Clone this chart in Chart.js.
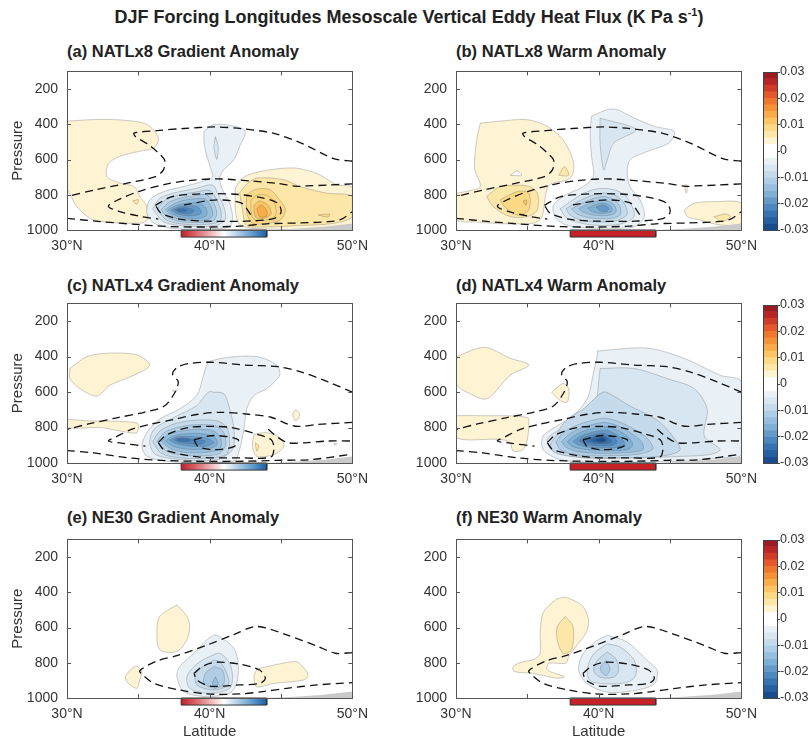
<!DOCTYPE html>
<html>
<head>
<meta charset="utf-8">
<script src="https://cdn.jsdelivr.net/npm/chart.js@4.4.1/dist/chart.umd.min.js"></script>
<style>
  body { margin: 0; background: #fff; }
  #page { position: relative; width: 811px; height: 743px; overflow: hidden;
          font-family: "Liberation Sans", Arial, Helvetica, sans-serif; color: #222; }
  canvas { position: absolute; }
  .ttl { position: absolute; font-weight: bold; font-size: 16.5px; white-space: nowrap; }
</style>
</head>
<body>
<div id="page">
  <div class="ttl" style="left:0;width:818px;text-align:center;top:7px;font-size:18px">DJF Forcing Longitudes Mesoscale Vertical Eddy Heat Flux (K Pa s<span style="font-size:11px;position:relative;top:-7px">-1</span>)</div>
  <div class="ttl" style="left:67px;top:42px">(a) NATLx8 Gradient Anomaly</div>
  <div class="ttl" style="left:456px;top:42px">(b) NATLx8 Warm Anomaly</div>
  <div class="ttl" style="left:67px;top:276px">(c) NATLx4 Gradient Anomaly</div>
  <div class="ttl" style="left:456px;top:276px">(d) NATLx4 Warm Anomaly</div>
  <div class="ttl" style="left:67px;top:508px">(e) NE30 Gradient Anomaly</div>
  <div class="ttl" style="left:456px;top:508px">(f) NE30 Warm Anomaly</div>

  <canvas id="pa" width="376" height="208" style="left:0;top:54px"></canvas>
  <canvas id="pb" width="375" height="208" style="left:390px;top:54px"></canvas>
  <canvas id="pc" width="376" height="209" style="left:0;top:286px"></canvas>
  <canvas id="pd" width="375" height="209" style="left:390px;top:286px"></canvas>
  <canvas id="pe" width="376" height="221" style="left:0;top:522px"></canvas>
  <canvas id="pf" width="375" height="221" style="left:390px;top:522px"></canvas>

  <canvas id="cb1" width="56" height="178" style="left:755px;top:62px"></canvas>
  <canvas id="cb2" width="56" height="178" style="left:755px;top:295px"></canvas>
  <canvas id="cb3" width="56" height="178" style="left:755px;top:530px"></canvas>
</div>

<script>
// Ejes
const latTicks = [30, 35, 40, 45, 50]
const pressureTicks = [200, 400, 600, 800, 1000]
const colorbarTicks = [0.03, 0.02, 0.01, 0, -0.01, -0.02, -0.03]
const levelStep = 0.0025

// Colores de cada banda (indice 0 = banda junto a cero)
const posColors = ['#ffffff', '#fef3d2', '#fde7a8', '#fcd987', '#fbc565', '#f8ad4a',
                   '#f49238', '#ee772f', '#e4582b', '#d03a28', '#b72526', '#9c1a22']
const negColors = ['#ffffff', '#e9f1f7', '#d8e6f1', '#c5dbec', '#afcde5', '#97bfdd',
                   '#7eafd4', '#6599c8', '#4d87be', '#3873b1', '#2660a2', '#184c8e']

// Barra de forzamiento (latitudes) y topografia (lat, p)
const forcingLats = [38, 44]
const terrain = [[44, 1000], [46, 993], [48, 982], [50, 963], [50, 1000]]

// Contornos discontinuos (estado medio)
const dashX8 = [
  [[50,610],[48.7,595],[46.5,510],[44.5,452],[42.2,425],[40.3,415],[38.2,424],[36.3,436],[34.7,450],[34.8,470],[35.7,515],[36.5,570],[36.85,605],[36.75,660],[36.2,697],[34.3,733],[32,772],[30,810]],
  [[50,738],[48.3,745],[46.8,750],[46.1,752],[44.8,736],[42.9,722],[40.6,710],[38.7,718],[36.8,742],[35.0,782],[33.6,828],[32.9,865],[33.6,893],[35.1,922],[36.4,938]],
  [[36.2,860],[37.3,812],[39.5,795],[41.8,797],[43.7,818],[44.8,850],[45.0,900],[44.5,935],[42.5,950],[40,950],[38,940],[36.6,905],[36.2,860]],
  [[38.2,858],[40.3,830],[42.2,846],[42.9,915]],
  [[30,934],[32.3,952],[35.1,970],[37.5,981],[39.8,983],[42.1,978],[44,965],[46.2,960],[48.3,953],[49.2,940],[50,896]]
]
const dashX4 = [
  [[50,600],[48.3,543],[46.4,486],[44.8,457],[42.5,448],[40.1,432],[38.5,440],[37.7,462],[37.4,500],[37.8,542],[37.5,611],[36.8,680],[35.4,714],[33.5,745],[31.5,780],[30,810]],
  [[50,771],[47.6,782],[46.2,794],[45.5,782],[44.3,742],[42.7,725],[40.8,714],[39.2,725],[37.5,754],[35.8,782],[34.5,811],[33.5,850],[32.9,876],[33.8,888],[35.5,905]],
  [[36.4,885],[36.8,925],[39.2,966],[42.2,971],[44.3,966],[44.5,908],[44.3,868],[43.4,840],[41.5,800],[40.3,794],[38.5,800],[37,840],[36.4,885]],
  [[38.9,868],[40.3,845],[42,868],[41.7,908],[40.3,925],[39.2,908],[38.9,868]],
  [[44.1,810],[44.8,857],[45.5,886],[46.7,886],[48.3,876],[50,876]],
  [[30,930],[31.9,943],[34.3,971],[36.6,985],[38.9,990],[42.5,990],[44.8,985],[47.1,981],[50,950]]
]
const dashNE30 = [
  [[50,742],[48.8,746],[47.6,708],[45.4,642],[43.3,594],[41.7,640],[39.8,700],[37.7,760],[36.3,790],[35.1,845],[35.3,869],[36.1,917],[37.9,955],[39.8,977],[42.1,977],[43.6,965],[45.4,945],[47.5,926],[50,913]],
  [[38.9,860],[39.5,820],[40.5,797],[42.1,808],[43.5,841],[43.9,888],[43.5,917],[42.1,926],[40,932],[39.1,898],[38.9,860]]
]

// Contornos rellenos: [nivel, puntos (lat, p)]
const gradX8 = [
  [1, [[30,382],[32.1,373],[34.0,377],[35.6,401],[36.4,477],[36.1,535],[35.1,553],[33.7,582],[32.9,625],[32.8,696],[33.7,734],[34.7,753],[35.1,810],[35.6,867],[35.6,943],[35.1,962],[31.9,943],[30.7,870],[30.3,810],[30,760]]],
  [2, [[34.6,835],[35.0,828],[34.9,854]]],
  [1, [[41.8,760],[42.3,705],[43.1,677],[44.5,655],[45.9,648],[47.0,665],[47.7,686],[48.9,743],[50,762],[50,995],[43.1,992],[42.1,968],[41.8,886]]],
  [2, [[42.1,790],[42.6,740],[43.3,705],[45.2,715],[46.3,753],[48.2,791],[50,810],[50,924],[48.7,962],[46.3,975],[44,982],[42.6,975],[42.3,886]]],
  [3, [[47.6,915],[48.4,910],[48.3,927]]],
  [3, [[42.6,800],[43.2,770],[44.2,770],[44.8,820],[45.3,880],[45.0,940],[44.0,962],[43.0,962],[42.6,900]]],
  [3, [[42.9,830],[43.4,800],[44.2,810],[44.6,860],[44.6,920],[43.8,945],[43.1,940],[42.9,890]]],
  [4, [[43.1,860],[43.5,835],[44.1,860],[44.3,910],[43.7,935],[43.2,925]]],
  [5, [[43.3,880],[43.6,858],[44.0,890],[44.0,920],[43.5,925]]],
  [-1, [[39.6,440],[40.3,401],[41.7,411],[42.5,440],[42.1,525],[41.7,601],[41.0,658],[40.7,705],[40.9,772],[41.4,848],[41.6,924],[41.4,981],[39.8,992],[37.5,992],[36.1,962],[35.6,905],[35.8,829],[36.8,782],[38.2,753],[39.6,722],[40.2,700],[40.1,658],[39.8,582],[39.6,506]]],
  [-2, [[40.4,470],[40.6,530],[40.5,600],[40.3,530]]],
  [-2, [[36.0,880],[36.5,820],[37.5,790],[39.0,765],[40.2,745],[40.6,800],[41.0,870],[41.1,940],[40.4,975],[38.5,978],[36.8,955]]],
  [-3, [[36.3,885],[36.8,835],[37.7,805],[39.0,785],[40.0,775],[40.5,830],[40.8,900],[40.7,950],[39.8,968],[38.3,968],[37.0,945]]],
  [-4, [[36.6,885],[37.1,845],[37.9,820],[39.0,805],[39.8,800],[40.3,850],[40.5,910],[40.2,950],[39.0,958],[37.8,950],[37.0,925]]],
  [-5, [[36.9,885],[37.4,855],[38.0,835],[39.0,822],[39.7,825],[40.1,870],[40.2,920],[39.6,945],[38.5,945],[37.5,930]]],
  [-6, [[37.1,885],[37.6,862],[38.3,850],[39.2,845],[39.7,870],[39.8,915],[39.2,935],[38.3,932],[37.5,915]]],
  [-7, [[37.3,886],[37.8,868],[38.5,862],[39.2,870],[39.4,905],[38.8,920],[38.0,915],[37.5,900]]],
  [-8, [[37.5,886],[37.9,875],[38.5,874],[38.9,890],[38.7,905],[38.0,905]]],
  [-9, [[37.7,886],[38.0,880],[38.4,884],[38.3,895],[37.9,895]]]
]

const warmX8 = [
  [1, [[31.7,394],[33.1,382],[35.0,374],[36.4,412],[37.5,488],[38.2,602],[38.2,678],[37.8,716],[36.6,740],[36.3,790],[36.2,850],[36.0,930],[35.5,960],[33.5,965],[31.5,955],[30,940],[30,800],[30.8,780],[31.7,754],[31.3,650],[31.45,488]]],
  [0, [[33.8,690],[34.3,665],[34.6,690]]],
  [2, [[37.2,690],[37.6,640],[37.9,690]]],
  [2, [[32.15,810],[33.1,754],[35.0,750],[35.7,791],[35.7,886],[35.0,924],[33.8,924],[32.6,867]]],
  [3, [[33.1,829],[34.3,782],[35.1,791],[35.1,886],[34.3,915],[33.4,867]]],
  [4, [[34.7,835],[34.95,830],[34.9,860]]],
  [1, [[46.0,886],[46.7,848],[48.3,839],[50,848],[50,962],[48.5,971],[47.1,943],[46.2,924]]],
  [2, [[48.1,924],[48.9,909],[49.25,924],[48.6,953]]],
  [1, [[46.0,745],[46.2,745],[46.15,790]]],
  [-1, [[39.5,355],[40.6,317],[41.3,317],[42.5,365],[43.9,412],[45.3,441],[44.9,507],[43.4,555],[42.2,602],[42.0,678],[42.2,754],[42.9,829],[43.2,924],[42.5,981],[40.6,990],[38.2,981],[37.1,943],[36.8,867],[37.5,810],[38.7,763],[39.5,716],[39.65,678],[39.5,583],[39.4,450]]],
  [-2, [[40.1,365],[42.6,431],[41.05,507],[40.6,602],[40.35,659],[40.1,507]]],
  [-2, [[37.3,880],[38.0,840],[39.0,790],[40.0,765],[41.0,770],[41.8,800],[42.3,860],[42.5,920],[41.8,960],[40.5,975],[39.0,965],[37.8,935]]],
  [-3, [[37.7,880],[38.5,840],[39.5,805],[40.3,790],[41.2,805],[41.8,850],[42.0,910],[41.3,945],[40.2,955],[38.8,945],[38.0,915]]],
  [-4, [[38.1,880],[38.9,845],[39.7,820],[40.4,810],[41.1,830],[41.5,870],[41.5,915],[40.8,935],[39.5,932],[38.5,910]]],
  [-5, [[38.6,878],[39.3,852],[40.0,835],[40.6,835],[41.1,860],[41.2,900],[40.6,918],[39.6,915],[38.9,898]]],
  [-6, [[39.2,875],[39.8,855],[40.4,848],[40.9,870],[40.9,895],[40.3,905],[39.6,898]]],
  [-7, [[39.8,870],[40.3,858],[40.7,875],[40.6,893],[40.2,895]]]
]

const gradX4 = [
  [1, [[30.2,467],[31.4,400],[32.8,381],[34.9,390],[35.8,448],[34.7,505],[33.0,562],[32.1,623],[30.9,581],[30.2,524]]],
  [1, [[30,752],[31.4,762],[34.9,775],[34.9,829],[33.7,819],[32.3,800],[30,800]]],
  [1, [[37.4,590],[37.7,590],[37.55,605]]],
  [1, [[45.8,725],[46.0,700],[46.3,720],[46.2,750],[46.0,760]]],
  [1, [[43.1,838],[44.0,829],[44.9,857],[45.2,905],[44.5,952],[43.3,962],[43.0,905]]],
  [2, [[43.2,886],[43.45,905],[43.3,933]]],
  [1, [[48.7,890],[48.9,890],[48.8,900]]],
  [-1, [[39.9,428],[41.2,405],[43.3,400],[44.7,448],[44.9,505],[44.0,581],[43.1,619],[42.6,695],[42.4,810],[42.1,924],[41.7,990],[39.3,996],[37.0,990],[35.6,962],[35.25,905],[35.6,829],[36.5,752],[37.9,695],[39.1,619],[39.5,524],[39.7,467]]],
  [-2, [[40.3,600],[41.0,610],[41.4,695],[41.7,810],[41.6,924],[40.5,981],[38.0,981],[36.2,952],[35.8,886],[36.1,810],[37.5,743],[39.1,676],[39.9,600]]],
  [-3, [[36.0,880],[36.5,820],[37.5,780],[38.8,760],[40.5,762],[41.2,800],[41.4,880],[41.2,950],[40.0,972],[38.0,972],[36.6,945]]],
  [-4, [[36.3,880],[36.8,830],[37.7,800],[38.9,785],[40.4,790],[41.0,830],[41.1,900],[40.6,950],[38.5,958],[37.0,935]]],
  [-5, [[36.6,878],[37.1,840],[38.0,820],[39.2,810],[40.3,820],[40.8,870],[40.7,920],[39.8,940],[38.3,940],[37.3,920]]],
  [-6, [[36.9,875],[37.4,848],[38.3,835],[39.5,835],[40.4,858],[40.5,900],[39.8,920],[38.4,922],[37.4,905]]],
  [-7, [[37.2,870],[37.7,852],[38.6,850],[39.8,860],[40.3,885],[39.8,905],[38.6,905],[37.6,890]]],
  [-8, [[37.5,868],[38.0,858],[38.8,865],[39.7,875],[39.5,893],[38.5,890],[37.8,882]]],
  [-9, [[37.7,866],[38.1,860],[38.7,870],[38.2,880],[37.8,875]]]
]

const warmX4 = [
  [1, [[30,400],[32.0,348],[33.8,409],[35.1,448],[33.8,505],[32.15,638],[30.75,600],[30,552]]],
  [1, [[30,733],[31.45,733],[35.0,743],[35.1,790],[35.0,867],[34.7,924],[34.0,933],[33.8,886],[33.1,867],[30,857]]],
  [1, [[36.7,600],[37.5,552],[37.9,581],[37.8,657],[37.3,648]]],
  [-1, [[39.9,368],[43.4,352],[46.0,410],[48.5,505],[50,543],[50,952],[48.5,971],[46.0,990],[42.5,996],[39.6,996],[37.3,981],[36.1,924],[36.1,848],[37.1,790],[38.2,733],[39.2,638],[39.6,505],[39.9,390]]],
  [-2, [[40.1,467],[42.5,467],[44.8,524],[46.7,581],[47.6,695],[47.4,848],[48.5,924],[47.8,952],[46.0,962],[42.5,971],[38.9,971],[36.8,933],[36.4,867],[37.3,810],[38.9,752],[39.8,657],[40.0,543]]],
  [-3, [[38.0,740],[39.0,690],[40.3,600],[41.0,620],[42.2,679],[43.5,730],[44.3,771],[45.2,851],[45.7,926],[44.5,960],[42.0,970],[39.0,968],[37.0,945],[36.6,900],[37.0,850],[37.4,790]]],
  [-4, [[37.0,880],[37.5,830],[38.4,790],[39.5,760],[40.5,748],[41.5,770],[42.5,810],[43.4,860],[43.8,920],[42.8,950],[40.5,960],[38.5,955],[37.3,925]]],
  [-5, [[37.4,880],[37.9,840],[38.7,805],[39.7,780],[40.5,772],[41.5,795],[42.3,835],[43.0,880],[43.1,925],[41.8,942],[40.0,945],[38.5,935],[37.7,910]]],
  [-6, [[37.8,880],[38.3,845],[39.0,818],[39.9,800],[40.5,795],[41.3,815],[42.0,850],[42.4,895],[42.0,925],[40.3,930],[38.8,920],[38.1,905]]],
  [-7, [[38.2,878],[38.7,850],[39.4,830],[40.1,818],[40.6,815],[41.2,838],[41.7,870],[41.8,900],[40.8,915],[39.3,910],[38.5,895]]],
  [-8, [[38.6,875],[39.1,852],[39.7,840],[40.3,832],[41.0,855],[41.3,880],[41.0,900],[39.9,903],[38.9,890]]],
  [-9, [[39.0,873],[39.5,855],[40.2,845],[40.8,865],[40.9,885],[40.2,893],[39.3,885]]],
  [-10, [[39.4,870],[39.9,858],[40.4,855],[40.6,872],[40.3,885],[39.7,882]]],
  [-11, [[39.8,868],[40.3,858],[40.5,875],[40.2,882],[39.9,878]]]
]

const gradNE30 = [
  [1, [[37.7,471],[38.4,537],[38.6,594],[38.4,670],[37.7,736],[36.5,727],[36.3,613],[36.5,537]]],
  [1, [[34.9,818],[35.25,850],[35.1,898],[34.9,945],[34.3,917],[34.1,879],[34.55,832]]],
  [1, [[43.3,837],[44.0,822],[45.9,793],[46.3,803],[46.9,869],[46.6,898],[44.5,917],[43.3,936],[43.1,879]]],
  [-1, [[40.3,642],[40.7,651],[41.7,718],[42.0,803],[41.9,917],[41.4,973],[39.8,992],[38.2,964],[37.7,879],[37.9,822],[38.9,746],[39.8,670]]],
  [-2, [[40.0,765],[40.7,746],[41.4,803],[41.6,879],[41.4,945],[40.0,973],[38.6,945],[38.4,879],[38.9,822],[39.5,784]]],
  [-3, [[40.3,784],[40.7,793],[41.2,860],[41.3,926],[40.3,955],[39.1,926],[39.0,869],[39.5,822]]],
  [-4, [[40.3,822],[40.9,841],[41.0,917],[40.4,945],[39.6,917],[39.7,860]]],
  [-5, [[40.4,879],[40.6,917],[40.4,945],[40.2,917]]]
]

const warmNE30 = [
  [1, [[37.66,427],[38.2,444],[38.9,480],[39.3,560],[39.1,632],[38.3,718],[37.9,765],[37.7,803],[36.5,803],[36.4,841],[37.6,879],[37.1,888],[35.4,860],[34.1,850],[34.0,822],[34.5,799],[35.5,780],[35.9,746],[35.9,632],[36.1,518],[37.0,442]]],
  [2, [[37.66,537],[38.2,594],[38.1,727],[37.5,746],[37.1,670],[37.1,594]]],
  [-1, [[40.6,644],[41.99,682],[43.4,787],[44.1,844],[43.9,920],[42.5,958],[40.6,967],[39.2,920],[38.6,844],[38.9,749],[39.9,673]]],
  [-2, [[40.6,692],[41.5,711],[42.5,787],[42.6,872],[42.0,911],[40.6,920],[39.4,901],[39.2,834],[39.65,749]]],
  [-3, [[40.6,739],[41.2,777],[41.4,844],[41.05,882],[40.1,882],[39.65,844],[39.9,787]]],
  [-4, [[40.5,787],[40.8,834],[40.5,872],[40.1,834]]]
]

Chart.defaults.font.family = '"Liberation Sans", Arial, Helvetica, sans-serif'
Chart.defaults.font.size = 14
Chart.defaults.color = '#333'
Chart.defaults.animation = false

// Rellena cada contorno cerrado usando el trazado que calcula Chart.js
const contourPlugin = {
  id: 'contourPlugin',
  beforeDatasetDraw(chart, args) {
    const ds = chart.data.datasets[args.index]
    if (!ds.fillColor) return
    const ctx = chart.ctx
    const area = chart.chartArea
    const line = args.meta.dataset
    line.updateControlPoints(area, 'x')
    ctx.save()
    if (ds.clip !== false) {
      ctx.beginPath()
      ctx.rect(area.left, area.top, area.right - area.left, area.bottom - area.top)
      ctx.clip()
    }
    ctx.beginPath()
    line.path(ctx)
    ctx.closePath()
    ctx.fillStyle = typeof ds.fillColor === 'function' ? ds.fillColor(chart) : ds.fillColor
    ctx.fill()
    ctx.restore()
  },
  afterDraw(chart) {
    // marco y marcas hacia dentro
    const ctx = chart.ctx
    const a = chart.chartArea
    const x = chart.scales.x
    const y = chart.scales.y
    ctx.save()
    ctx.strokeStyle = '#555'
    ctx.lineWidth = 1
    ctx.strokeRect(Math.round(a.left) + 0.5, Math.round(a.top) + 0.5, Math.round(a.right - a.left), Math.round(a.bottom - a.top))
    ctx.beginPath()
    latTicks.forEach(v => {
      const px = Math.round(x.getPixelForValue(v)) + 0.5
      ctx.moveTo(px, a.top); ctx.lineTo(px, a.top + 4)
      ctx.moveTo(px, a.bottom); ctx.lineTo(px, a.bottom - 4)
    })
    pressureTicks.forEach(v => {
      const py = Math.round(y.getPixelForValue(v)) + 0.5
      ctx.moveTo(a.left, py); ctx.lineTo(a.left + 4, py)
      ctx.moveTo(a.right, py); ctx.lineTo(a.right - 4, py)
    })
    ctx.stroke()
    ctx.restore()
  }
}

const framePlugin = {
  id: 'framePlugin',
  afterDraw(chart) {
    const ctx = chart.ctx
    const a = chart.chartArea
    ctx.save()
    ctx.strokeStyle = '#444'
    ctx.lineWidth = 1
    ctx.strokeRect(Math.round(a.left) + 0.5, Math.round(a.top) + 0.5, Math.round(a.right - a.left) - 1, Math.round(a.bottom - a.top))
    ctx.restore()
  }
}

function toPts(arr) {
  return arr.map(p => ({ x: p[0], y: p[1] }))
}

function forcingFill(chart) {
  const x = chart.scales.x
  const g = chart.ctx.createLinearGradient(x.getPixelForValue(forcingLats[0]), 0, x.getPixelForValue(forcingLats[1]), 0)
  g.addColorStop(0, '#bf1e2d')
  g.addColorStop(0.2, '#de7174')
  g.addColorStop(0.5, '#ffffff')
  g.addColorStop(0.8, '#6fa6d4')
  g.addColorStop(1, '#1b5fa5')
  return g
}

function buildDatasets(contours, dashes, warm) {
  const sets = []
  contours.forEach(c => {
    const lev = c[0]
    sets.push({
      data: toPts(c[1].concat([c[1][0]])),
      fillColor: lev >= 0 ? posColors[lev] : negColors[-lev],
      borderColor: 'rgba(95,95,95,0.45)',
      borderWidth: 0.7,
      tension: 0.3
    })
  })
  sets.push({ data: toPts(terrain.concat([terrain[0]])), fillColor: '#cacaca', borderColor: 'rgba(0,0,0,0)', borderWidth: 0, tension: 0 })
  dashes.forEach(d => {
    sets.push({ data: toPts(d), borderColor: '#111', borderWidth: 1.3, borderDash: [8, 5], tension: 0.3 })
  })
  const f0 = forcingLats[0]
  const f1 = forcingLats[1]
  sets.push({
    data: toPts([[f0, 1000], [f1, 1000], [f1, 1040], [f0, 1040], [f0, 1000]]),
    fillColor: warm ? '#c62127' : forcingFill,
    borderColor: '#333', borderWidth: 1, tension: 0, clip: false
  })
  sets.forEach((s, i) => {
    s.order = -i
    s.pointRadius = 0
    s.fill = false
  })
  return sets
}

function panelChart(id, contours, dashes, warm, yWidth, showPressure, showLatitude) {
  return new Chart(document.getElementById(id), {
    type: 'line',
    data: { datasets: buildDatasets(contours, dashes, warm) },
    options: {
      responsive: false,
      events: [],
      layout: { padding: 0 },
      plugins: { legend: { display: false }, tooltip: { enabled: false } },
      scales: {
        x: {
          type: 'linear', min: 30, max: 50,
          grid: { display: false, drawTicks: false },
          border: { display: false },
          afterBuildTicks: s => { s.ticks = latTicks.map(v => ({ value: v })) },
          afterFit: s => { s.height = showLatitude ? 45 : 32 },
          ticks: { padding: 8, autoSkip: false, maxRotation: 0, callback: v => (v % 10 === 0 ? v + '°N' : '') },
          title: { display: showLatitude, text: 'Latitude', font: { size: 15 }, padding: { top: 0, bottom: 2 } }
        },
        y: {
          type: 'linear', min: 100, max: 1000, reverse: true,
          grid: { display: false, drawTicks: false },
          border: { display: false },
          afterBuildTicks: s => { s.ticks = pressureTicks.map(v => ({ value: v })) },
          afterFit: s => { s.width = yWidth },
          ticks: { padding: 9, callback: v => String(v) },
          title: { display: showPressure, text: 'Pressure', font: { size: 15 }, padding: { top: 9, bottom: 0 } }
        }
      }
    },
    plugins: [contourPlugin]
  })
}

function colorbarChart(id) {
  const sets = []
  posColors.forEach(c => sets.push({ data: [levelStep], backgroundColor: c }))
  negColors.forEach(c => sets.push({ data: [-levelStep], backgroundColor: c }))
  sets.forEach(s => { s.barPercentage = 1; s.categoryPercentage = 1; s.borderWidth = 0 })
  return new Chart(document.getElementById(id), {
    type: 'bar',
    data: { labels: [''], datasets: sets },
    options: {
      responsive: false,
      events: [],
      layout: { padding: { top: 10, bottom: 10, left: 8, right: 0 } },
      plugins: { legend: { display: false }, tooltip: { enabled: false } },
      scales: {
        x: { stacked: true, display: false },
        y: {
          stacked: true, position: 'right', min: -0.03, max: 0.03,
          grid: { drawOnChartArea: false, tickLength: 2, color: '#444' },
          border: { display: false },
          afterBuildTicks: s => { s.ticks = colorbarTicks.map(v => ({ value: v })) },
          afterFit: s => { s.width = 33 },
          ticks: { padding: 0, font: { size: 12.5 }, callback: v => (v === 0 ? '0' : v.toFixed(2)) }
        }
      }
    },
    plugins: [framePlugin]
  })
}

panelChart('pa', gradX8, dashX8, false, 67, true, false)
panelChart('pb', warmX8, dashX8, true, 66, false, false)
panelChart('pc', gradX4, dashX4, false, 67, true, false)
panelChart('pd', warmX4, dashX4, true, 66, false, false)
panelChart('pe', gradNE30, dashNE30, false, 67, true, true)
panelChart('pf', warmNE30, dashNE30, true, 66, false, true)

colorbarChart('cb1')
colorbarChart('cb2')
colorbarChart('cb3')
</script>
</body>
</html>
